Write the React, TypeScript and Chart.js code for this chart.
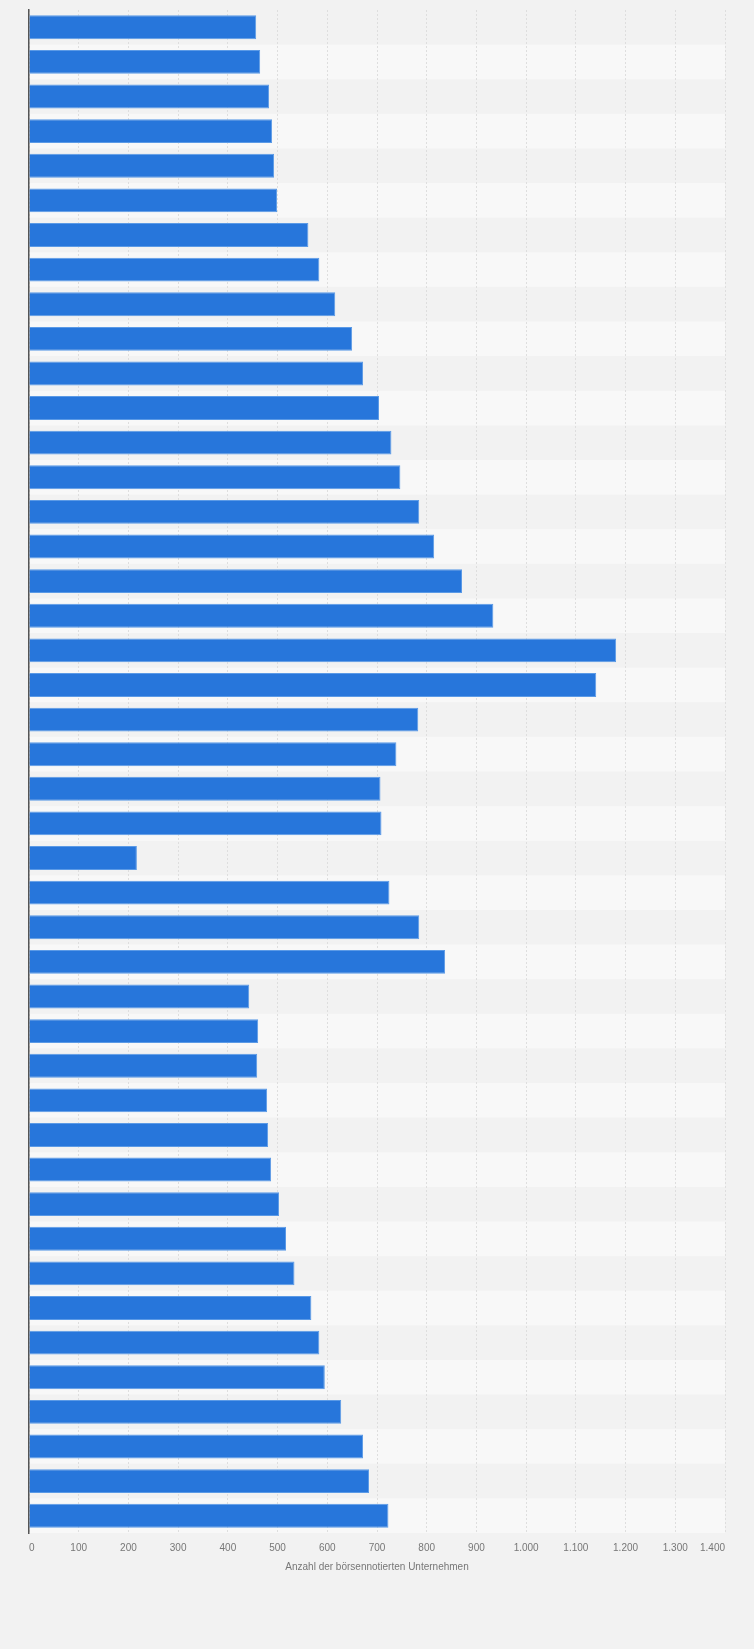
import { useEffect, useRef } from "react";
import Chart from "chart.js/auto";

// years are not shown in the picture; kept only as category keys
const years = [
  "1975", "1976", "1977", "1978", "1979", "1980", "1981", "1982", "1983", "1984", "1985",
  "1986", "1987", "1988", "1989", "1990", "1991", "1992", "1993", "1994", "1995", "1996",
  "1997", "1998", "1999", "2000", "2001", "2002", "2003", "2004", "2005", "2006", "2007",
  "2008", "2009", "2010", "2011", "2012", "2013", "2014", "2015", "2016", "2017", "2018",
];

const companies = [
  457, 465, 483, 489, 493, 499, 562, 584, 616, 650, 672,
  704, 729, 747, 785, 815, 871, 934, 1181, 1141, 783, 739,
  707, 709, 217, 725, 785, 837, 443, 461, 459, 479, 481,
  487, 503, 517, 534, 568, 584, 595, 628, 672, 684, 723,
];

const axisTitle = "Anzahl der börsennotierten Unternehmen";

const PAGE_BG = "#f2f2f2";
const BAND_BG = "#f8f8f8";
const FONT = "Arial, 'Liberation Sans', sans-serif";

// alternating row bands behind the bars, and edge tick labels kept inside the plot
const rowBands = {
  id: "rowBands",
  beforeDraw(chart: any) {
    const { ctx, chartArea, scales } = chart;
    ctx.save();
    ctx.fillStyle = PAGE_BG;
    ctx.fillRect(0, 0, chart.width, chart.height);
    const y = scales.y;
    const step = (chartArea.bottom - chartArea.top) / years.length;
    ctx.fillStyle = BAND_BG;
    for (let i = 1; i < years.length; i += 2) {
      const c = y.getPixelForValue(i);
      ctx.fillRect(chartArea.left, c - step / 2, chartArea.right - chartArea.left, step);
    }
    ctx.restore();

    const items = scales.x.getLabelItems(chartArea);
    if (items.length) {
      items[0].options.textAlign = "left";
      items[items.length - 1].options.textAlign = "right";
    }
  },
};

export default function App() {
  const canvasRef = useRef<HTMLCanvasElement>(null);
  const chartRef = useRef<Chart | null>(null);

  useEffect(() => {
    if (!canvasRef.current) return;
    if (chartRef.current) chartRef.current.destroy();

    chartRef.current = new Chart(canvasRef.current, {
      type: "bar",
      data: {
        labels: years,
        datasets: [
          {
            label: axisTitle,
            data: companies,
            backgroundColor: "#2776db",
            borderColor: "#5b9ae6",
            borderWidth: 1,
            categoryPercentage: 1,
            barPercentage: 0.69,
          },
        ],
      },
      options: {
        indexAxis: "y",
        responsive: false,
        animation: false,
        layout: { padding: { top: 10, left: 29, right: 29, bottom: 76 } },
        plugins: {
          legend: { display: false },
          tooltip: { enabled: false },
        },
        scales: {
          x: {
            min: 0,
            max: 1400,
            ticks: {
              stepSize: 100,
              padding: 9,
              color: "#777",
              font: { family: FONT, size: 10 },
              callback: (v: any) => Number(v).toLocaleString("de-DE"),
            },
            grid: { color: "#dedede", drawTicks: false },
            border: { display: false, dash: [2, 2] },
            title: {
              display: true,
              text: axisTitle,
              color: "#777",
              padding: 0,
              font: { family: FONT, size: 10 },
            },
            afterFit: (s: any) => {
              s.height = 40;
            },
          },
          y: {
            ticks: { display: false },
            grid: { display: false, drawTicks: false },
            border: { display: true, color: "#555", width: 1.5 },
            afterFit: (s: any) => {
              s.width = 0;
            },
          },
        },
      },
      plugins: [rowBands],
    });

    return () => {
      if (chartRef.current) {
        chartRef.current.destroy();
        chartRef.current = null;
      }
    };
  }, []);

  return (
    <div
      style={{
        position: "absolute",
        top: 0,
        left: 0,
        width: 754,
        height: 1649,
        background: PAGE_BG,
        overflow: "hidden",
      }}
    >
      <canvas ref={canvasRef} width={754} height={1649} style={{ display: "block" }} />
    </div>
  );
}
